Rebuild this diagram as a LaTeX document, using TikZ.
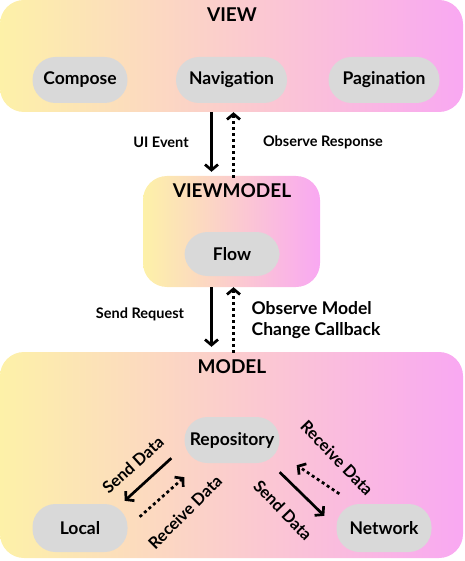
\documentclass[tikz,border=0pt]{standalone}
\usepackage{fontspec}
\setmainfont{Lato}
\usetikzlibrary{arrows.meta}

\definecolor{layerA}{HTML}{FDF1A8}
\definecolor{layerB}{HTML}{FCD3CB}
\definecolor{layerC}{HTML}{F9A8F2}
\definecolor{pillgrey}{HTML}{D9D9D9}

\newcommand{\fsz}[1]{\fontsize{#1}{#1}\selectfont}

\tikzset{
	layer/.style={rounded corners=24pt, left color=layerA, middle color=layerB, right color=layerC, inner sep=0pt},
	layertitle/.style={font=\bfseries\fsz{19}},
	pill/.style={fill=pillgrey, rounded corners=23pt, minimum height=46pt, minimum width=95pt, inner sep=0pt, font=\bfseries\fsz{17.5}},
	lbl/.style={font=\bfseries\fsz{14.5}, align=center},
	sendarr/.style={line width=2.7pt, -{Straight Barb[length=5.5pt,width=13pt]}},
	recvarr/.style={line width=2.7pt, dash pattern=on 3pt off 3pt, -{Straight Barb[length=5.5pt,width=13pt]}}
}

\begin{document}
\begin{tikzpicture}[x=1pt,y=-1pt]
\useasboundingbox (0,0) rectangle (464,561);

\node[layer, minimum width=463pt, minimum height=112pt] (view) at (231.5,56) {};
\node[layer, minimum width=177pt, minimum height=111pt] (vm) at (231.5,231.5) {};
\node[layer, minimum width=463pt, minimum height=206pt] (model) at (231.5,455) {};

\node[layertitle] (viewtitle) at (232,15) {VIEW};
\node[layertitle] (vmtitle) at (232,191) {VIEWMODEL};
\node[layertitle] (modeltitle) at (232,367) {MODEL};

\node[pill] (compose) at (80,80) {Compose};
\node[pill, minimum width=111pt] (nav) at (231.5,80) {Navigation};
\node[pill, minimum width=111pt] (pagin) at (384,80) {Pagination};
\node[pill, minimum height=44pt, minimum width=95pt] (flow) at (232,254) {Flow};
\node[pill] (repo) at (232,440) {Repository};
\node[pill, minimum height=48pt] (local) at (80,528) {Local};
\node[pill, minimum height=48pt] (network) at (384,528) {Network};

\draw[sendarr] ([xshift=-20pt]view.south) -- ([xshift=-20pt,yshift=4pt]vm.north);
\draw[recvarr] ([xshift=2pt,yshift=-2pt]vm.north) -- ([xshift=2pt]view.south);
\draw[sendarr] ([xshift=-20pt]vm.south) -- ([xshift=-20pt,yshift=5pt]model.north);
\draw[recvarr] ([xshift=2pt,yshift=-1pt]model.north) -- ([xshift=2pt]vm.south);

\draw[sendarr] ([xshift=-13pt,yshift=5pt]repo.south west) -- ([xshift=-3pt,yshift=3pt]local.north east);
\draw[recvarr] ([xshift=12pt,yshift=-13pt]local.north east) -- ([yshift=-14pt]repo.south west);
\draw[sendarr] ([yshift=-9pt]repo.south east) -- ([xshift=-12pt,yshift=-12pt]network.north west);
\draw[recvarr] ([xshift=3pt,yshift=10pt]network.north west) -- ([xshift=17pt,yshift=-2pt]repo.south east);

\node[lbl] (uievent) at (161,142) {UI Event};
\node[lbl] (obsresp) at (323,142) {Observe Response};
\node[lbl] (sendreq) at (140,314) {Send Request};
\node[lbl, font=\bfseries\fsz{17.5}, align=left] (obsmodel) at (316,320) {Observe Model\\[3pt]Change Callback};
\node[lbl, font=\bfseries\fsz{16.5}, rotate=42] (lsend) at (133,465) {Send Data};
\node[lbl, font=\bfseries\fsz{16.5}, rotate=45] (lrecv) at (185,512) {Receive Data};
\node[lbl, font=\bfseries\fsz{16.5}, rotate=-46] (rsend) at (283,510) {Send Data};
\node[lbl, font=\bfseries\fsz{16.5}, rotate=-46] (rrecv) at (337,458) {Receive Data};
\end{tikzpicture}
\end{document}
